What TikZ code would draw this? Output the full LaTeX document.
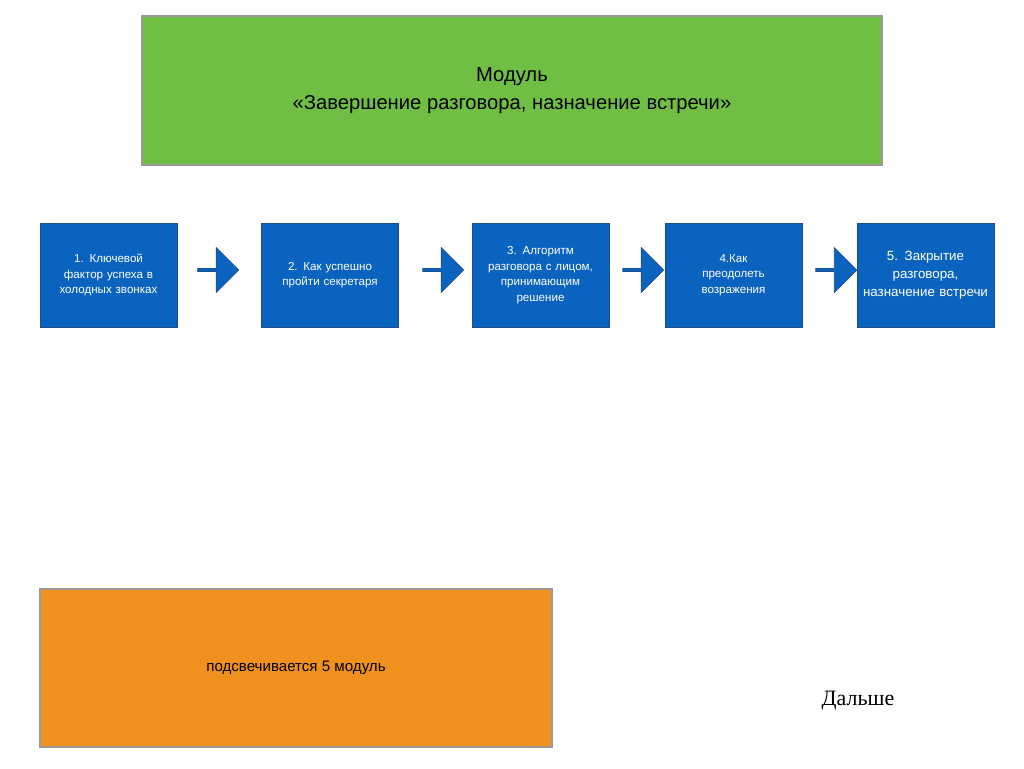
\documentclass[tikz,border=0pt]{standalone}
\usepackage{fontspec}
\setmainfont{Liberation Sans}
\newfontfamily\serifru{Liberation Serif}
\usetikzlibrary{shapes.arrows}
\definecolor{gr}{HTML}{70BF44}
\definecolor{bl}{HTML}{0B63C0}
\definecolor{bd}{HTML}{1F4E8C}
\definecolor{or}{HTML}{F0901E}
\tikzset{
 bbox/.style={draw=bd,fill=bl,text=white,minimum width=2.74cm,minimum height=2.08cm,text width=2.5cm,align=center,font=\fontsize{6.6}{8.8}\selectfont,inner sep=0pt},
 barr/.style={single arrow,draw=bd,fill=bl,minimum height=0.82cm,minimum width=0.9cm,single arrow head extend=0.1cm,inner sep=0pt}
}
\begin{document}
\begin{tikzpicture}[x=0.02cm,y=-0.02cm]
\useasboundingbox (0,0) rectangle (1024,768);
\node[draw=gray!80,fill=gr,minimum width=14.8cm,minimum height=2.98cm,align=center,font=\fontsize{11.5}{16}\selectfont,line width=0.8pt] (title) at (512,90.5) {Модуль\\«Завершение разговора, назначение встречи»};
\node[bbox] (b1) at (108.5,275) {1. Ключевой фактор успеха в холодных звонках};
\node[bbox] (b2) at (330,275) {2. Как успешно пройти секретаря};
\node[bbox] (b3) at (540.5,275) {3. Алгоритм разговора с лицом, принимающим решение};
\node[bbox] (b4) at (733.5,275) {4.Как\\преодолеть\\возражения};
\node[bbox,font=\fontsize{7.6}{10.4}\selectfont] (b5) at (925.5,275) {5. Закрытие разговора, назначение встречи};
\node[barr] (a1) at (217.5,270) {};
\node[barr] (a2) at (442.5,270) {};
\node[barr] (a3) at (642.5,270) {};
\node[barr] (a4) at (835.5,270) {};
\node[draw=gray!80,fill=or,minimum width=10.24cm,minimum height=3.16cm,font=\fontsize{8.6}{10}\selectfont,line width=0.8pt] (o) at (296,668) {подсвечивается 5 модуль};
\node[font=\serifru\fontsize{12.5}{14}\selectfont] (next) at (858,701) {Дальше};
\end{tikzpicture}
\end{document}
